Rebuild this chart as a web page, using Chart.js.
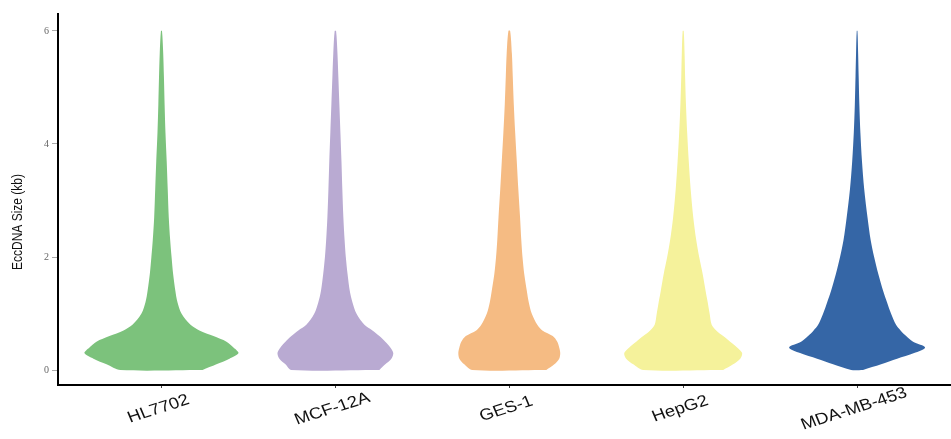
<!DOCTYPE html>
<html>
<head>
<meta charset="utf-8">
<script src="https://cdn.jsdelivr.net/npm/chart.js@4.4.0/dist/chart.umd.min.js"></script>
<style>
html, body { margin: 0; padding: 0; background: #fff; }
#wrap { width: 951px; height: 439px; }
</style>
</head>
<body>
<div id="wrap"><canvas id="myChart" width="951" height="439"></canvas></div>
<script>
var categories = ['HL7702', 'MCF-12A', 'GES-1', 'HepG2', 'MDA-MB-453'];
var colors = ['#7cc27c', '#b9aad2', '#f5bb83', '#f5f29b', '#3566a6'];
var yTicks = [0, 2, 4, 6];
// eccDNA size (kb) at which the violin half-widths are read
var sizeGrid = [0, 0.1, 0.2, 0.3, 0.4, 0.5, 0.6, 0.7, 0.8, 1.0, 1.2, 1.4, 1.7, 2.0, 2.3, 2.7, 3.2, 3.7, 4.2, 4.7, 5.2, 5.6, 6.0];
// density half-widths (category units)
var hl7702 = [0.236, 0.316, 0.391, 0.443, 0.414, 0.374, 0.299, 0.218, 0.167, 0.115, 0.092, 0.080, 0.067, 0.058, 0.050, 0.042, 0.036, 0.030, 0.023, 0.018, 0.014, 0.010, 0.003];
var mcf12a = [0.253, 0.287, 0.322, 0.333, 0.316, 0.287, 0.253, 0.213, 0.167, 0.121, 0.098, 0.083, 0.070, 0.060, 0.053, 0.046, 0.040, 0.035, 0.029, 0.023, 0.017, 0.012, 0.004];
var ges1 = [0.213, 0.259, 0.287, 0.293, 0.287, 0.276, 0.250, 0.190, 0.161, 0.129, 0.112, 0.101, 0.086, 0.076, 0.069, 0.062, 0.052, 0.043, 0.034, 0.026, 0.020, 0.015, 0.005];
var hepg2 = [0.230, 0.287, 0.328, 0.339, 0.310, 0.270, 0.230, 0.190, 0.164, 0.152, 0.141, 0.129, 0.112, 0.092, 0.075, 0.058, 0.043, 0.032, 0.023, 0.016, 0.011, 0.008, 0.003];
var mdamb453 = [0.034, 0.138, 0.230, 0.328, 0.391, 0.322, 0.282, 0.250, 0.224, 0.195, 0.172, 0.150, 0.122, 0.098, 0.078, 0.060, 0.041, 0.028, 0.019, 0.013, 0.009, 0.006, 0.002];
var widths = [hl7702, mcf12a, ges1, hepg2, mdamb453];

var datasets = categories.map(function (name, i) {
    var pts = [];
    for (var k = 0; k < sizeGrid.length; k++) {
        pts.push({x: i + widths[i][k], y: sizeGrid[k]});
    }
    for (var k = sizeGrid.length - 1; k >= 0; k--) {
        pts.push({x: i - widths[i][k], y: sizeGrid[k]});
    }
    pts.push(pts[0]);
    return {
        label: name,
        data: pts,
        showLine: true,
        fill: 'shape',
        backgroundColor: colors[i],
        borderColor: colors[i],
        borderWidth: 0,
        pointRadius: 0,
        tension: 0.3
    };
});

var textPlugin = {
    id: 'textPlugin',
    afterDraw: function (chart) {
        var ctx = chart.ctx;
        var xs = chart.scales.x;
        var area = chart.chartArea;
        ctx.save();
        ctx.fillStyle = '#111';
        ctx.textAlign = 'center';
        ctx.textBaseline = 'middle';
        ctx.font = '16px Arial, "Liberation Sans", sans-serif';
        categories.forEach(function (name, i) {
            ctx.save();
            ctx.translate(xs.getPixelForValue(i) - 3, area.bottom + 24);
            ctx.scale(1.15, 1);
            ctx.rotate(-20 * Math.PI / 180);
            ctx.fillText(name, 0, 0);
            ctx.restore();
        });
        ctx.font = '12px Arial, "Liberation Sans", sans-serif';
        ctx.translate(18, 222);
        ctx.rotate(-Math.PI / 2);
        ctx.scale(1, 1.2);
        ctx.fillText('EccDNA Size (kb)', 0, 0);
        ctx.restore();
    }
};

var ctx = document.getElementById('myChart').getContext('2d');
var myChart = new Chart(ctx, {
    type: 'scatter',
    data: { datasets: datasets },
    plugins: [textPlugin],
    options: {
        responsive: false,
        animation: false,
        layout: { padding: { top: 14, right: 0, left: 0, bottom: 0 } },
        plugins: { legend: { display: false }, tooltip: { enabled: false } },
        scales: {
            x: {
                type: 'linear',
                min: -0.595,
                max: 4.54,
                afterBuildTicks: function (s) {
                    s.ticks = categories.map(function (c, i) { return {value: i}; });
                },
                afterFit: function (s) { s.height = 54; },
                ticks: { display: false },
                grid: { drawOnChartArea: false, drawTicks: true, tickLength: 3, color: '#444' },
                border: { display: true, color: '#000', width: 2 }
            },
            y: {
                min: -0.265,
                max: 6.3,
                afterBuildTicks: function (s) {
                    s.ticks = yTicks.map(function (v) { return {value: v}; });
                },
                afterFit: function (s) { s.width = 58; },
                ticks: {
                    color: '#666',
                    padding: 3,
                    font: { family: '"Liberation Serif", "DejaVu Serif", serif', size: 10 }
                },
                grid: { drawOnChartArea: false, drawTicks: true, tickLength: 6, color: '#aaa' },
                border: { display: true, color: '#000', width: 2 }
            }
        }
    }
});
</script>
</body>
</html>
